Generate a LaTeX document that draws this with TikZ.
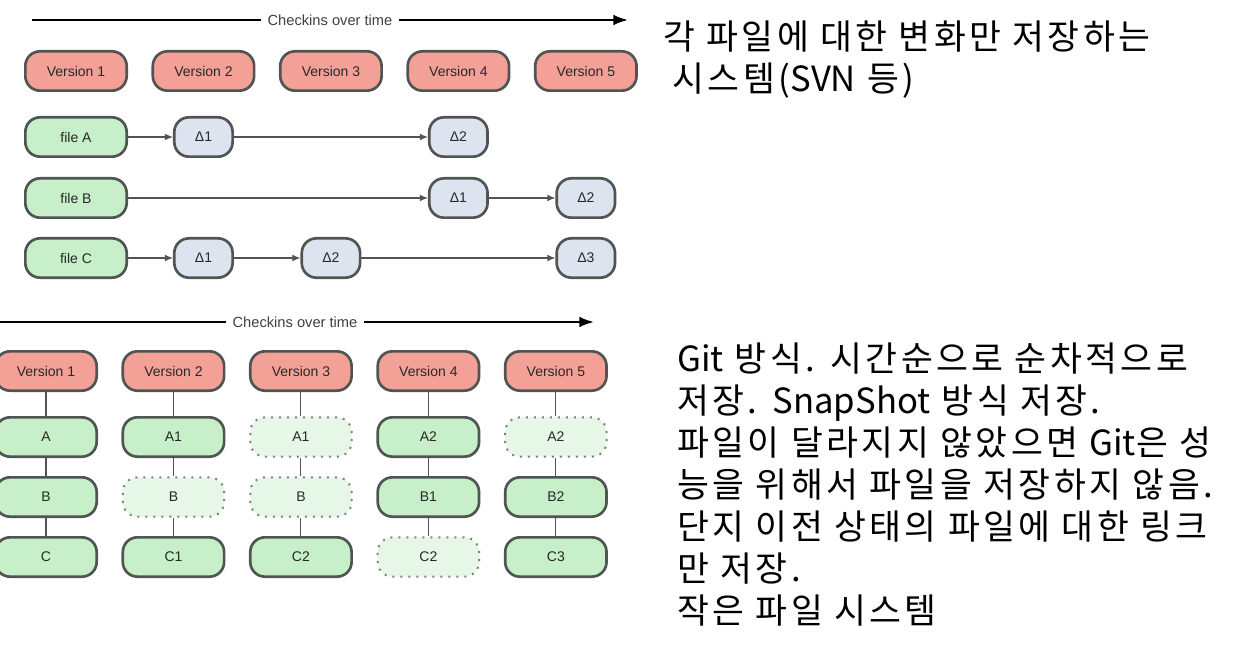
\documentclass[tikz,border=0pt]{standalone}
\usepackage{fontspec}
\newfontfamily\kr[LetterSpace=10]{Noto Sans CJK KR}
\newfontfamily\krn{Noto Sans CJK KR}
\newfontfamily\lbl{Liberation Sans}
\usetikzlibrary{positioning, arrows.meta}
\definecolor{verfill}{RGB}{243,160,151}
\definecolor{filefill}{RGB}{199,239,202}
\definecolor{deltafill}{RGB}{221,228,240}
\definecolor{ghostfill}{RGB}{230,246,231}
\definecolor{boxline}{RGB}{80,84,82}
\definecolor{labeltext}{RGB}{40,40,40}

\begin{document}
\begin{tikzpicture}[x=0.75pt, y=-0.75pt,
		box/.style={draw=boxline, line width=2pt, outer sep=1pt, rounded corners=11pt, minimum height=29.5pt,
			inner sep=0pt, font=\lbl\fontsize{10.5}{12}\selectfont, text=labeltext},
		version/.style={box, fill=verfill, minimum width=76pt},
		file/.style={box, fill=filefill, minimum width=76pt},
		delta/.style={box, fill=deltafill, minimum width=43.75pt},
		ghost/.style={file, fill=ghostfill, draw=gray, line width=1.5pt, dash pattern=on 1.5pt off 4.5pt},
		edge/.style={boxline, line width=0.8pt},
		flow/.style={edge, -{Latex[length=6pt, width=5pt]}},
		timeline/.style={black, line width=1.5pt, -{Latex[length=11pt, width=8pt]}},
		timelabel/.style={fill=white, inner sep=5pt, font=\lbl\fontsize{11}{13}\selectfont, text=black!75},
		note/.style={font=\kr\fontsize{26}{31.5}\selectfont, align=left, anchor=north west, inner sep=0pt}]

		\useasboundingbox (0,0) rectangle (1239,649);

		% delta storage
		\coordinate (t1a) at (32,20);
		\coordinate (t1b) at (628,20);
		\draw[timeline] (t1a) -- node[timelabel] (t1) {Checkins over time} (t1b);

		\node[version] (1-v1) at (76,71) {Version 1};
		\node[version, right = 17.6pt of 1-v1] (1-v2) {Version 2};
		\node[version, right = 17.6pt of 1-v2] (1-v3) {Version 3};
		\node[version, right = 17.6pt of 1-v3] (1-v4) {Version 4};
		\node[version, right = 17.6pt of 1-v4] (1-v5) {Version 5};

		\node[file] (fa) at (76,137) {file A};
		\node[file] (fb) at (76,198) {file B};
		\node[file] (fc) at (76,258) {file C};

		\node[delta] (fa-1) at (1-v2 |- fa) {Δ1};
		\node[delta] (fa-2) at (1-v4 |- fa) {Δ2};
		\node[delta] (fb-1) at (1-v4 |- fb) {Δ1};
		\node[delta] (fb-2) at (1-v5 |- fb) {Δ2};
		\node[delta] (fc-1) at (1-v2 |- fc) {Δ1};
		\node[delta] (fc-2) at (1-v3 |- fc) {Δ2};
		\node[delta] (fc-3) at (1-v5 |- fc) {Δ3};

		\draw[flow] (fa) -- (fa-1);
		\draw[flow] (fa-1) -- (fa-2);
		\draw[flow] (fb) -- (fb-1);
		\draw[flow] (fb-1) -- (fb-2);
		\draw[flow] (fc) -- (fc-1);
		\draw[flow] (fc-1) -- (fc-2);
		\draw[flow] (fc-2) -- (fc-3);

		% snapshots
		\coordinate (t2a) at (-4,322);
		\coordinate (t2b) at (594,322);
		\draw[timeline] (t2a) -- node[timelabel] (t2) {Checkins over time} (t2b);

		\node[version] (2-v1) at (46,371) {Version 1};
		\node[version, right = 17.6pt of 2-v1] (2-v2) {Version 2};
		\node[version, right = 17.6pt of 2-v2] (2-v3) {Version 3};
		\node[version, right = 17.6pt of 2-v3] (2-v4) {Version 4};
		\node[version, right = 17.6pt of 2-v4] (2-v5) {Version 5};

		\node[file, below = 18pt of 2-v1] (1-a) {A};
		\node[file, below = 13.5pt of 1-a] (1-b) {B};
		\node[file, below = 13.5pt of 1-b] (1-c) {C};
		\node[file, below = 18pt of 2-v2] (2-a) {A1};
		\node[ghost, below = 13.5pt of 2-a] (2-b) {B};
		\node[file, below = 13.5pt of 2-b] (2-c) {C1};
		\node[ghost, below = 18pt of 2-v3] (3-a) {A1};
		\node[ghost, below = 13.5pt of 3-a] (3-b) {B};
		\node[file, below = 13.5pt of 3-b] (3-c) {C2};
		\node[file, below = 18pt of 2-v4] (4-a) {A2};
		\node[file, below = 13.5pt of 4-a] (4-b) {B1};
		\node[ghost, below = 13.5pt of 4-b] (4-c) {C2};
		\node[ghost, below = 18pt of 2-v5] (5-a) {A2};
		\node[file, below = 13.5pt of 5-a] (5-b) {B2};
		\node[file, below = 13.5pt of 5-b] (5-c) {C3};

		\draw[edge] (2-v1) -- (1-a) -- (1-b) -- (1-c);
		\draw[edge] (2-v2) -- (2-a) -- (2-b) -- (2-c);
		\draw[edge] (2-v3) -- (3-a) -- (3-b) -- (3-c);
		\draw[edge] (2-v4) -- (4-a) -- (4-b) -- (4-c);
		\draw[edge] (2-v5) -- (5-a) -- (5-b) -- (5-c);

		% notes
		\node[note] (svn) at (663,21) {각 파일에 대한 변화만 저장하는\\\hspace*{7pt}시스템({\krn SVN} 등)};
		\node[note] (git) at (677,343) {{\krn Git} 방식. 시간순으로 순차적으로\\저장. {\krn SnapShot} 방식 저장.\\파일이 달라지지 않았으면 {\krn Git}은 성\\능을 위해서 파일을 저장하지 않음.\\단지 이전 상태의 파일에 대한 링크\\만 저장.\\작은 파일 시스템};
\end{tikzpicture}
\end{document}
